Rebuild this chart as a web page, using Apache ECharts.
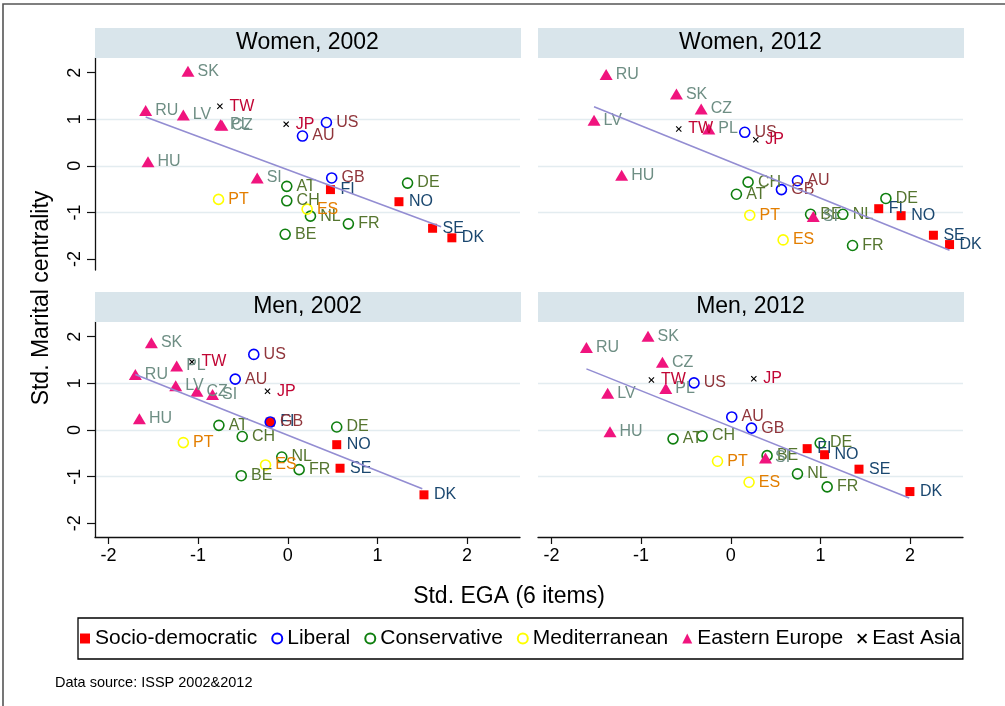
<!DOCTYPE html>
<html>
<head>
<meta charset="utf-8">
<script src="https://cdn.jsdelivr.net/npm/echarts@6/dist/echarts.min.js"></script>
<style>
html,body{margin:0;padding:0;background:#fff;}
#chart{width:1005px;height:706px;}
</style>
</head>
<body>
<div id="chart"></div>
<script>
// ---------------- data ----------------
const groups = ['Socio-democratic', 'Liberal', 'Conservative', 'Mediterranean', 'Eastern Europe', 'East Asia'];
const panelTitles = ['Women, 2002', 'Women, 2012', 'Men, 2002', 'Men, 2012'];
const xTicks = [-2, -1, 0, 1, 2];
const yTicks = [-2, -1, 0, 1, 2];
const countryGroup = {
  SE: 0, DK: 0, NO: 0, FI: 0,
  US: 1, AU: 1, GB: 1,
  AT: 2, CH: 2, DE: 2, NL: 2, FR: 2, BE: 2,
  PT: 3, ES: 3,
  SK: 4, RU: 4, LV: 4, PL: 4, CZ: 4, HU: 4, SI: 4,
  TW: 5, JP: 5
};
// [country, Std. EGA, Std. Marital centrality]
const women2002 = [
  ['SK', -1.113, 2.03], ['RU', -1.585, 1.19], ['LV', -1.165, 1.09], ['TW', -0.757, 1.28],
  ['PL', -0.75, 0.88], ['CZ', -0.735, 0.87], ['JP', -0.018, 0.895], ['US', 0.431, 0.93],
  ['AU', 0.164, 0.64], ['HU', -1.559, 0.086], ['SI', -0.341, -0.26], ['GB', 0.49, -0.26],
  ['FI', 0.476, -0.51], ['AT', -0.011, -0.44], ['DE', 1.336, -0.37], ['NO', 1.24, -0.77],
  ['PT', -0.772, -0.72], ['CH', -0.011, -0.75], ['ES', 0.216, -0.93], ['NL', 0.253, -1.08],
  ['FR', 0.676, -1.245], ['BE', -0.029, -1.47], ['SE', 1.615, -1.34], ['DK', 1.83, -1.545]
];
const women2012 = [
  ['RU', -1.39, 1.96], ['SK', -0.606, 1.54], ['CZ', -0.33, 1.22], ['LV', -1.525, 0.98],
  ['TW', -0.58, 0.79], ['PL', -0.245, 0.79], ['US', 0.156, 0.72], ['JP', 0.279, 0.56],
  ['HU', -1.217, -0.2], ['CH', 0.193, -0.35], ['AU', 0.744, -0.32], ['GB', 0.565, -0.51],
  ['AT', 0.063, -0.61], ['DE', 1.73, -0.70], ['FI', 1.65, -0.92], ['NO', 1.90, -1.07],
  ['PT', 0.212, -1.06], ['BE', 0.89, -1.04], ['SI', 0.92, -1.09], ['NL', 1.25, -1.04],
  ['SE', 2.26, -1.49], ['DK', 2.44, -1.69], ['ES', 0.584, -1.59], ['FR', 1.358, -1.71]
];
const men2002 = [
  ['SK', -1.521, 1.87], ['US', -0.379, 1.62], ['TW', -1.069, 1.46], ['PL', -1.239, 1.37],
  ['RU', -1.70, 1.19], ['AU', -0.586, 1.09], ['LV', -1.25, 0.95], ['CZ', -1.013, 0.83],
  ['SI', -0.839, 0.76], ['JP', -0.226, 0.83], ['HU', -1.655, 0.24], ['GB', -0.196, 0.17],
  ['FI', -0.196, 0.17], ['AT', -0.768, 0.10], ['DE', 0.546, 0.064], ['CH', -0.508, -0.14],
  ['PT', -1.165, -0.27], ['NO', 0.546, -0.315], ['NL', -0.067, -0.58], ['ES', -0.248, -0.75],
  ['FR', 0.127, -0.85], ['SE', 0.583, -0.82], ['BE', -0.519, -0.98], ['DK', 1.519, -1.39]
];
const men2012 = [
  ['SK', -0.923, 2.01], ['RU', -1.61, 1.77], ['CZ', -0.762, 1.45], ['TW', -0.885, 1.07],
  ['JP', 0.257, 1.10], ['US', -0.41, 1.01], ['PL', -0.725, 0.89], ['LV', -1.373, 0.79],
  ['AU', 0.011, 0.28], ['GB', 0.231, 0.04], ['HU', -1.347, -0.04], ['CH', -0.32, -0.13],
  ['AT', -0.644, -0.19], ['DE', 0.997, -0.28], ['FI', 0.852, -0.40], ['NO', 1.046, -0.53],
  ['BE', 0.405, -0.55], ['SI', 0.387, -0.60], ['PT', -0.148, -0.67], ['SE', 1.43, -0.84],
  ['NL', 0.744, -0.94], ['ES', 0.204, -1.12], ['FR', 1.075, -1.22], ['DK', 1.998, -1.32]
];
// fitted line endpoints
const fitWomen2002 = [[-1.585, 1.05], [1.71, -1.31]];
const fitWomen2012 = [[-1.525, 1.27], [2.44, -1.81]];
const fitMen2002 = [[-1.70, 1.19], [1.50, -1.26]];
const fitMen2012 = [[-1.61, 1.31], [1.99, -1.46]];

// ---------------- styling ----------------
const FONT = '"Liberation Sans", Arial, sans-serif';
const panelData = [women2002, women2012, men2002, men2012];
const panelFit = [fitWomen2002, fitWomen2012, fitMen2002, fitMen2012];
const gridRects = [
  { left: 95, top: 58, width: 425, height: 212 },
  { left: 538, top: 58, width: 425, height: 212 },
  { left: 95, top: 322, width: 425, height: 215 },
  { left: 538, top: 322, width: 425, height: 215 }
];
const yRanges = [[-2.236, 2.315], [-2.236, 2.315], [-2.294, 2.315], [-2.294, 2.315]];
const xRange = [-2.15, 2.59];

const X_PATH = 'path://M0,1.3L1.3,0L5,3.7L8.7,0L10,1.3L6.3,5L10,8.7L8.7,10L5,6.3L1.3,10L0,8.7L3.7,5Z';
const groupStyle = [
  { symbol: 'rect', size: 9, item: { color: '#ff0000' }, label: '#1a476f', dist: 5.5 },
  { symbol: 'circle', size: 10, item: { color: 'rgba(0,0,0,0)', borderColor: '#0000ff', borderWidth: 1.6 }, label: '#90353b', dist: 4 },
  { symbol: 'circle', size: 10, item: { color: 'rgba(0,0,0,0)', borderColor: '#0f7f0f', borderWidth: 1.6 }, label: '#55752f', dist: 4 },
  { symbol: 'circle', size: 10, item: { color: 'rgba(0,0,0,0)', borderColor: '#ffff00', borderWidth: 1.6 }, label: '#e37e00', dist: 4 },
  { symbol: 'triangle', size: [13, 11], item: { color: '#f0147e' }, label: '#6e8e84', dist: 3 },
  { symbol: X_PATH, size: 6, item: { color: '#000000' }, label: '#c10534', dist: 6.5 }
];

const grids = gridRects.map(r => Object.assign({ containLabel: false }, r));
const xAxes = gridRects.map((r, i) => {
  const bottom = i >= 2;
  return {
    gridIndex: i, type: 'value', min: xRange[0], max: xRange[1],
    splitLine: { show: false },
    axisLine: { show: bottom, onZero: false, lineStyle: { color: '#111', width: 1.3 } },
    axisTick: { show: bottom, length: 7, customValues: xTicks, lineStyle: { color: '#111', width: 1.2 } },
    axisLabel: { show: bottom, customValues: xTicks, fontSize: 18, margin: 10, color: '#000', fontFamily: FONT }
  };
});
const yAxes = gridRects.map((r, i) => {
  const left = i % 2 === 0;
  return {
    gridIndex: i, type: 'value', min: yRanges[i][0], max: yRanges[i][1],
    splitLine: { show: true, showMinLine: false, showMaxLine: false, lineStyle: { color: '#e3ecf0', width: 1.3 } },
    axisLine: { show: left, onZero: false, lineStyle: { color: '#111', width: 1.3 } },
    axisTick: { show: left, length: 8, customValues: yTicks, lineStyle: { color: '#111', width: 1.2 } },
    axisLabel: { show: left, customValues: yTicks, rotate: 90, fontSize: 18, margin: 11, color: '#000', fontFamily: FONT }
  };
});

const series = [];
panelData.forEach((rows, p) => {
  groups.forEach((g, gi) => {
    const st = groupStyle[gi];
    series.push({
      name: g, type: 'scatter', xAxisIndex: p, yAxisIndex: p,
      symbol: st.symbol, symbolSize: st.size,
      itemStyle: Object.assign({ opacity: 1 }, st.item),
      label: {
        show: true, position: 'right', distance: st.dist,
        formatter: d => d.value[2], color: st.label,
        fontSize: 16, fontFamily: FONT
      },
      emphasis: { disabled: true },
      z: 3,
      data: rows.filter(r => countryGroup[r[0]] === gi).map(r => [r[1], r[2], r[0]])
    });
  });
  series.push({
    name: 'Fitted values', type: 'line', xAxisIndex: p, yAxisIndex: p,
    data: panelFit[p], symbol: 'none', silent: true,
    lineStyle: { color: '#938dd2', width: 1.6 }, z: 4
  });
});

const graphics = [
  { type: 'rect', shape: { x: 3, y: 4, width: 1010, height: 720 }, style: { fill: 'none', stroke: '#555', lineWidth: 1.6 }, z: -10 }
];
const headerY = [28, 28, 292, 292];
gridRects.forEach((r, i) => {
  graphics.push({ type: 'rect', shape: { x: r.left, y: headerY[i], width: r.width + 1, height: 30 }, style: { fill: '#d9e5eb' }, z: 1 });
  graphics.push({
    type: 'text', x: r.left + r.width / 2, y: headerY[i] + 15,
    style: { text: panelTitles[i], font: '23px ' + FONT, fill: '#000', align: 'center', verticalAlign: 'middle' }, z: 2
  });
});
graphics.push({
  type: 'text', x: 42, y: 298, rotation: Math.PI / 2,
  style: { text: 'Std. Marital centrality', font: '23px ' + FONT, fill: '#000', align: 'center', verticalAlign: 'middle' }
});
graphics.push({
  type: 'text', x: 509, y: 597,
  style: { text: 'Std. EGA (6 items)', font: '23px ' + FONT, fill: '#000', align: 'center', verticalAlign: 'middle' }
});
graphics.push({
  type: 'text', x: 55, y: 683,
  style: { text: 'Data source: ISSP 2002&2012', font: '14.5px ' + FONT, fill: '#000', align: 'left', verticalAlign: 'middle' }
});

const chart = echarts.init(document.getElementById('chart'), null, { renderer: 'canvas' });
chart.setOption({
  animation: false,
  backgroundColor: '#fff',
  grid: grids,
  xAxis: xAxes,
  yAxis: yAxes,
  legend: {
    data: groups, left: 78, top: 618, orient: 'horizontal',
    itemWidth: 10, itemHeight: 10, itemGap: 14,
    padding: [10, 2, 10, 2],
    borderColor: '#000', borderWidth: 1.3,
    textStyle: { fontSize: 21, color: '#000', fontFamily: FONT },
    selectedMode: false
  },
  graphic: graphics,
  series: series
});
</script>
</body>
</html>
